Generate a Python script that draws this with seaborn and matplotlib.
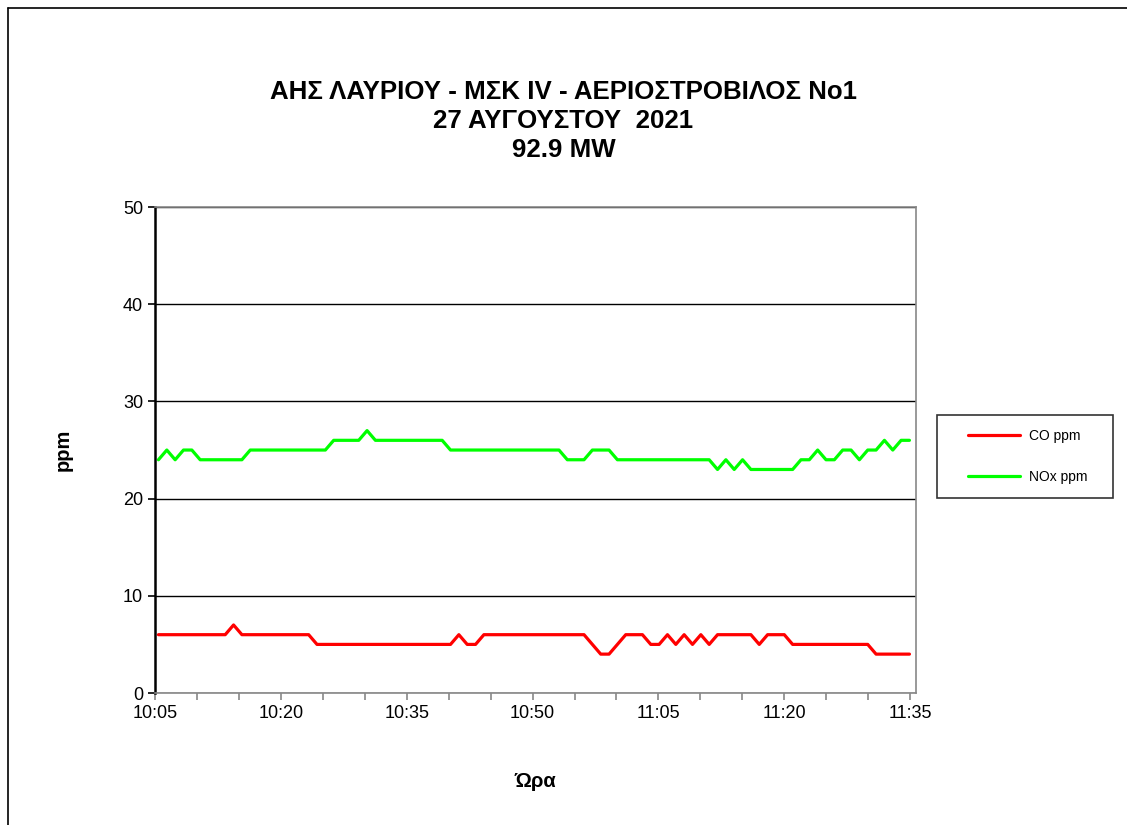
import pandas as pd
import numpy as np
import matplotlib
matplotlib.use('Agg')
import matplotlib.pyplot as plt
import matplotlib.dates as mdates
from matplotlib.lines import Line2D
from matplotlib.legend_handler import HandlerLine2D
import seaborn as sns

# 1. DATA (one logger reading per minute, about 10:05 -> 11:35)
times = pd.date_range('2021-08-27 10:05:25', '2021-08-27 11:34:55', periods=91)

co_ppm = [6, 6, 6, 6, 6, 6, 6, 6, 6, 7,
          6, 6, 6, 6, 6, 6, 6, 6, 6, 5,
          5, 5, 5, 5, 5, 5, 5, 5, 5, 5,
          5, 5, 5, 5, 5, 5, 6, 5, 5, 6,
          6, 6, 6, 6, 6, 6, 6, 6, 6, 6,
          6, 6, 5, 4, 4, 5, 6, 6, 6, 5,
          5, 6, 5, 6, 5, 6, 5, 6, 6, 6,
          6, 6, 5, 6, 6, 6, 5, 5, 5, 5,
          5, 5, 5, 5, 5, 5, 4, 4, 4, 4,
          4]

nox_ppm = [24, 25, 24, 25, 25, 24, 24, 24, 24, 24,
           24, 25, 25, 25, 25, 25, 25, 25, 25, 25,
           25, 26, 26, 26, 26, 27, 26, 26, 26, 26,
           26, 26, 26, 26, 26, 25, 25, 25, 25, 25,
           25, 25, 25, 25, 25, 25, 25, 25, 25, 24,
           24, 24, 25, 25, 25, 24, 24, 24, 24, 24,
           24, 24, 24, 24, 24, 24, 24, 23, 24, 23,
           24, 23, 23, 23, 23, 23, 23, 24, 24, 25,
           24, 24, 25, 25, 24, 25, 25, 26, 25, 26,
           26]

title_lines = ['ΑΗΣ ΛΑΥΡΙΟΥ - ΜΣΚ IV - ΑΕΡΙΟΣΤΡΟΒΙΛΟΣ No1',
               '27 ΑΥΓΟΥΣΤΟΥ  2021',
               '92.9 MW']

df = pd.DataFrame({'time': times, 'CO ppm': co_ppm, 'NOx ppm': nox_ppm})
long_df = df.melt(id_vars='time', var_name='series', value_name='ppm')

# 2. PLOT
sns.set_style('white')
plt.rcParams['font.family'] = ['Liberation Sans', 'DejaVu Sans']
plt.rcParams['text.color'] = 'black'

fig = plt.figure(figsize=(11.27, 8.25), dpi=100)
ax = fig.add_axes([0.1375, 0.16, 0.6753, 0.589])

sns.lineplot(data=long_df, x='time', y='ppm', hue='series',
             palette={'CO ppm': '#ff0000', 'NOx ppm': '#00ff00'},
             linewidth=2.3, ax=ax)

ax.set_ylim(0, 50)
ax.set_yticks(range(0, 51, 10))
ax.set_xlim(pd.Timestamp('2021-08-27 10:05'), pd.Timestamp('2021-08-27 11:35:42'))
ax.xaxis.set_major_locator(mdates.MinuteLocator(byminute=[5, 20, 35, 50]))
ax.xaxis.set_minor_locator(mdates.MinuteLocator(byminute=range(0, 60, 5)))
ax.xaxis.set_major_formatter(mdates.DateFormatter('%H:%M'))

ax.grid(axis='y', color='black', linewidth=1)
ax.tick_params(axis='both', labelsize=13, labelcolor='black')
ax.tick_params(axis='x', which='both', direction='out', length=5, color='#888888', width=1.2, bottom=True)
ax.tick_params(axis='y', direction='out', length=5, color='black', width=1.2, left=True)

for side in ['top', 'right', 'bottom']:
    ax.spines[side].set_color('#888888')
    ax.spines[side].set_linewidth(1.2)
ax.spines['left'].set_color('black')
ax.spines['left'].set_linewidth(1.8)

ax.set_xlabel('Ώρα', fontsize=14.5, fontweight='bold', labelpad=36, color='black')
ax.set_ylabel('ppm', fontsize=14.5, fontweight='bold', labelpad=36, color='black')

handles, labels = ax.get_legend_handles_labels()
leg = ax.legend(handles, ['CO ppm', 'NOx ppm   '],
                loc='upper left', bbox_to_anchor=(937 / 1127, 1 - 415 / 825),
                bbox_transform=fig.transFigure,
                fontsize=10, frameon=True, fancybox=False, edgecolor='black',
                borderpad=1.0, labelspacing=1.95, handlelength=5.0, handletextpad=0.6,
                borderaxespad=0, handler_map={Line2D: HandlerLine2D(xpad=1.2)})
leg.get_frame().set_linewidth(1.2)
for line in leg.get_lines():
    line.set_linewidth(2.3)

for i, t in enumerate(title_lines):
    fig.text(0.5, 1 - (92 + 29 * i) / 825, t, ha='center', va='center',
             fontsize=18.6, fontweight='bold', color='black')

# outer chart border (top and left visible)
fig.add_artist(plt.Line2D([8 / 1127, 1], [1 - 8 / 825, 1 - 8 / 825], color='black', linewidth=1.2))
fig.add_artist(plt.Line2D([8 / 1127, 8 / 1127], [0, 1 - 8 / 825], color='black', linewidth=1.2))

fig.savefig('out.png', dpi=100)
